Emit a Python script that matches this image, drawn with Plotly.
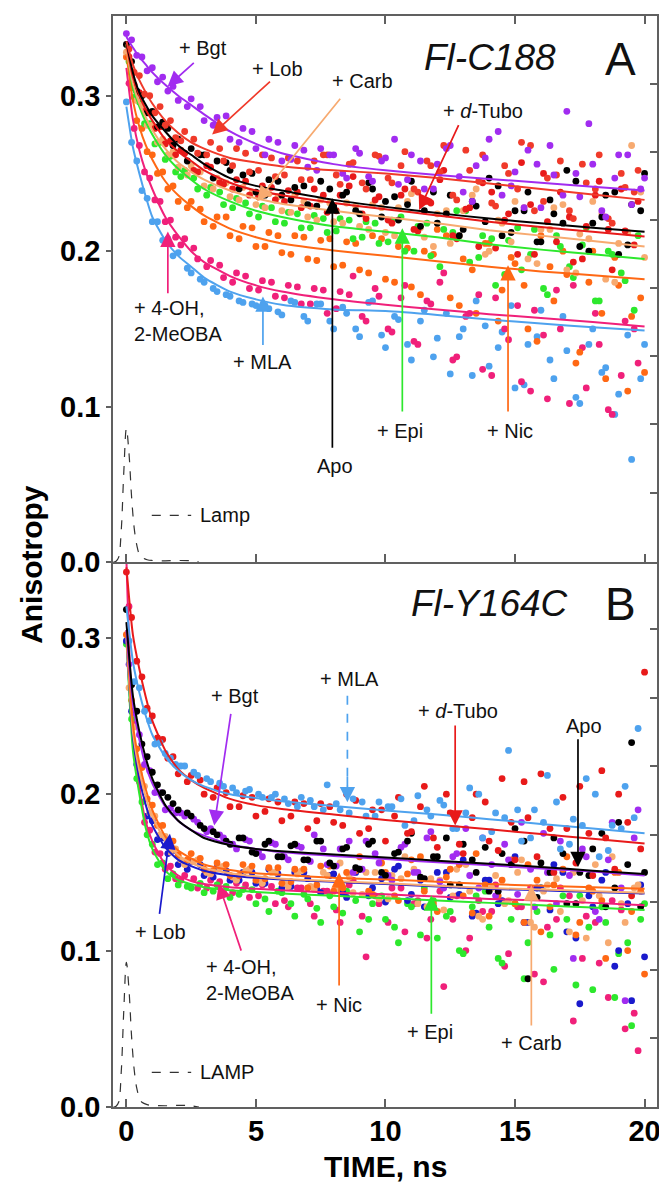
import plotly.graph_objects as go

# ---------------- time grids ----------------
T1 = [0, 0.2, 0.4, 0.6, 0.8, 1.0, 1.2, 1.4, 1.6, 1.8, 2.0,
      2.5, 3, 3.5, 4, 4.5, 5, 5.5, 6, 6.5, 7, 7.5, 8, 8.5, 9, 9.5, 10,
      10.5, 11, 11.5, 12, 12.5, 13, 13.5, 14, 14.5, 15, 15.5, 16, 16.5, 17, 17.5, 18, 18.5, 19, 19.5, 20]
T2 = [0.1, 0.3, 0.5, 0.7, 0.9, 1.1, 1.3, 1.5, 1.7, 1.9,
      2.25, 2.75, 3.25, 3.75, 4.25, 4.75, 5.25, 5.75, 6.25, 6.75, 7.25, 7.75, 8.25, 8.75, 9.25, 9.75,
      10.25, 10.75, 11.25, 11.75, 12.25, 12.75, 13.25, 13.75, 14.25, 14.75, 15.25, 15.75, 16.25, 16.75,
      17.25, 17.75, 18.25, 18.75, 19.25, 19.75]
T3 = [2.1, 2.6, 3.1, 3.6, 4.1, 4.6, 5.1, 5.6, 6.1, 6.6, 7.1, 7.6, 8.1, 8.6, 9.1, 9.6, 10.1, 10.6,
      11.1, 11.6, 12.1, 12.6, 13.1, 13.6, 14.1, 14.6, 15.1, 15.6, 16.1, 16.6, 17.1, 17.6, 18.1, 18.6, 19.1, 19.6]
T4 = [2.35, 2.85, 3.35, 3.85, 4.35, 4.85, 5.35, 5.85, 6.35, 6.85, 7.35, 7.85, 8.35, 8.85, 9.35, 9.85, 10.35, 10.85,
      11.35, 11.85, 12.35, 12.85, 13.35, 13.85, 14.35, 14.85, 15.35, 15.85, 16.35, 16.85, 17.35, 17.85, 18.35, 18.85, 19.35, 19.85]
FIT_T = [0, 0.25, 0.5, 0.75, 1, 1.5, 2, 2.5, 3, 4, 5, 6, 8, 10, 12, 14, 16, 18, 20]
LAMP_T = [-0.5, -0.4, -0.3, -0.2, -0.1, 0, 0.1, 0.2, 0.3, 0.4, 0.5, 0.6, 0.8, 1.0, 1.5, 2.0, 2.5, 2.8]
LAMP_A = [0, 0.0005, 0.003, 0.02, 0.058, 0.086, 0.07, 0.042, 0.022, 0.011, 0.005, 0.003, 0.0015, 0.001, 0.0008, 0.001, 0.0008, 0]
LAMP_B = [0, 0.0005, 0.003, 0.022, 0.062, 0.0925, 0.075, 0.045, 0.024, 0.012, 0.006, 0.003, 0.0015, 0.001, 0.0008, 0.001, 0.0008, 0]

# ---------------- Panel A (Fl-C188) data ----------------
A_BGT = [0.340, 0.336, 0.326, 0.325, 0.316, 0.318, 0.309, 0.312, 0.303, 0.306, 0.297,
         0.298, 0.284, 0.286, 0.272, 0.279, 0.266, 0.272, 0.258, 0.268, 0.254, 0.266, 0.262, 0.247, 0.263, 0.245, 0.260,
         0.243, 0.262, 0.240, 0.256, 0.268, 0.238, 0.255, 0.272, 0.236, 0.251, 0.265, 0.228, 0.249, 0.290, 0.235, 0.256, 0.222, 0.262, 0.230, 0.247]
A_BGT_X = [0.293, 0.293, 0.281, 0.287, 0.270, 0.277, 0.262, 0.270, 0.259, 0.265, 0.252, 0.262, 0.250, 0.266, 0.248, 0.258, 0.272, 0.246,
           0.258, 0.240, 0.266, 0.248, 0.232, 0.260, 0.277, 0.242, 0.228, 0.256, 0.268, 0.236, 0.250, 0.282, 0.226, 0.247, 0.262, 0.240]
A_LOB = [0.330, 0.315, 0.313, 0.301, 0.300, 0.289, 0.293, 0.281, 0.284, 0.273,
         0.277, 0.263, 0.270, 0.258, 0.266, 0.251, 0.262, 0.248, 0.260, 0.246, 0.258, 0.262, 0.243, 0.257, 0.240, 0.261,
         0.244, 0.264, 0.238, 0.255, 0.268, 0.233, 0.252, 0.262, 0.229, 0.250, 0.270, 0.226, 0.247, 0.258, 0.221, 0.244, 0.262, 0.218, 0.241, 0.252]
A_LOB_X = [0.271, 0.272, 0.262, 0.266, 0.255, 0.263, 0.252, 0.260, 0.249, 0.258, 0.246, 0.262, 0.249, 0.256, 0.244, 0.262, 0.247, 0.255,
           0.240, 0.258, 0.251, 0.236, 0.265, 0.245, 0.231, 0.255, 0.240, 0.268, 0.232, 0.249, 0.226, 0.256, 0.240, 0.221, 0.250, 0.238]
A_APO = [0.333, 0.322, 0.303, 0.300, 0.289, 0.290, 0.280, 0.283, 0.279, 0.268, 0.272,
         0.266, 0.262, 0.258, 0.252, 0.249, 0.238, 0.246, 0.236, 0.241, 0.230, 0.245, 0.229, 0.238, 0.224, 0.240, 0.232,
         0.220, 0.245, 0.226, 0.218, 0.236, 0.214, 0.229, 0.247, 0.210, 0.226, 0.238, 0.206, 0.224, 0.252, 0.203, 0.218, 0.236, 0.198, 0.230, 0.250]
A_APO_X = [0.258, 0.262, 0.247, 0.257, 0.240, 0.250, 0.236, 0.245, 0.233, 0.242, 0.229, 0.240, 0.236, 0.226, 0.244, 0.222, 0.235, 0.230,
           0.216, 0.238, 0.224, 0.210, 0.232, 0.219, 0.242, 0.212, 0.226, 0.206, 0.233, 0.218, 0.245, 0.200, 0.222, 0.238, 0.204, 0.226]
A_DTUBO = [0.325, 0.307, 0.302, 0.290, 0.289, 0.279, 0.280, 0.269, 0.271, 0.262,
           0.263, 0.251, 0.254, 0.243, 0.246, 0.236, 0.242, 0.233, 0.239, 0.228, 0.240, 0.225, 0.236, 0.248, 0.221, 0.235,
           0.218, 0.240, 0.213, 0.231, 0.252, 0.208, 0.228, 0.244, 0.202, 0.224, 0.257, 0.198, 0.219, 0.238, 0.193, 0.216, 0.245, 0.188, 0.213, 0.232]
A_DTUBO_X = [0.265, 0.252, 0.255, 0.244, 0.240, 0.245, 0.235, 0.241, 0.232, 0.238, 0.229, 0.236, 0.226, 0.242, 0.224, 0.233, 0.220, 0.236,
             0.214, 0.232, 0.246, 0.210, 0.227, 0.203, 0.238, 0.220, 0.198, 0.230, 0.250, 0.206, 0.222, 0.195, 0.236, 0.214, 0.240, 0.204]
A_CARB = [0.328, 0.315, 0.297, 0.294, 0.281, 0.281, 0.270, 0.272, 0.262, 0.264, 0.254,
          0.255, 0.242, 0.247, 0.235, 0.241, 0.230, 0.237, 0.226, 0.236, 0.222, 0.233, 0.219, 0.231, 0.216, 0.230, 0.212,
          0.228, 0.237, 0.209, 0.224, 0.205, 0.226, 0.240, 0.200, 0.218, 0.232, 0.195, 0.214, 0.228, 0.188, 0.211, 0.232, 0.182, 0.205, 0.268, 0.196]
A_CARB_X = [0.249, 0.251, 0.240, 0.244, 0.233, 0.238, 0.228, 0.235, 0.225, 0.232, 0.220, 0.231, 0.218, 0.229, 0.214, 0.228, 0.210, 0.232,
            0.215, 0.203, 0.226, 0.210, 0.236, 0.198, 0.220, 0.206, 0.228, 0.192, 0.214, 0.230, 0.186, 0.208, 0.224, 0.180, 0.212, 0.238]
A_EPI = [0.322, 0.299, 0.296, 0.282, 0.282, 0.269, 0.270, 0.259, 0.261, 0.251,
         0.252, 0.240, 0.241, 0.230, 0.234, 0.224, 0.229, 0.219, 0.225, 0.215, 0.223, 0.212, 0.221, 0.208, 0.219, 0.205,
         0.220, 0.200, 0.216, 0.197, 0.214, 0.226, 0.193, 0.210, 0.178, 0.207, 0.188, 0.214, 0.172, 0.203, 0.183, 0.215, 0.168, 0.198, 0.181, 0.210]
A_EPI_X = [0.248, 0.247, 0.236, 0.238, 0.228, 0.231, 0.222, 0.228, 0.218, 0.224, 0.215, 0.221, 0.213, 0.220, 0.209, 0.218, 0.206, 0.222,
           0.200, 0.218, 0.190, 0.212, 0.226, 0.196, 0.208, 0.185, 0.215, 0.198, 0.176, 0.210, 0.190, 0.204, 0.168, 0.200, 0.186, 0.162]
A_NIC = [0.325, 0.305, 0.284, 0.279, 0.264, 0.262, 0.250, 0.251, 0.240, 0.242, 0.232,
         0.232, 0.219, 0.222, 0.210, 0.216, 0.203, 0.212, 0.199, 0.210, 0.195, 0.207, 0.190, 0.206, 0.188, 0.210, 0.182,
         0.203, 0.177, 0.200, 0.214, 0.170, 0.195, 0.160, 0.205, 0.175, 0.192, 0.150, 0.210, 0.168, 0.185, 0.135, 0.200, 0.118, 0.178, 0.158, 0.122]
A_NIC_X = [0.228, 0.227, 0.216, 0.222, 0.208, 0.215, 0.203, 0.210, 0.198, 0.209, 0.194, 0.208, 0.191, 0.205, 0.186, 0.208, 0.180, 0.202,
           0.172, 0.198, 0.210, 0.165, 0.188, 0.205, 0.155, 0.196, 0.178, 0.142, 0.190, 0.200, 0.128, 0.180, 0.160, 0.196, 0.110, 0.170]
A_OH = [0.308, 0.279, 0.268, 0.251, 0.247, 0.233, 0.232, 0.219, 0.220, 0.209,
        0.208, 0.195, 0.194, 0.183, 0.186, 0.176, 0.181, 0.171, 0.178, 0.166, 0.176, 0.160, 0.174, 0.184, 0.155, 0.171,
        0.148, 0.178, 0.140, 0.166, 0.186, 0.132, 0.160, 0.124, 0.170, 0.143, 0.116, 0.162, 0.105, 0.150, 0.178, 0.112, 0.140, 0.095, 0.155, 0.128]
A_OH_X = [0.204, 0.202, 0.190, 0.191, 0.180, 0.184, 0.175, 0.180, 0.170, 0.177, 0.166, 0.175, 0.163, 0.172, 0.158, 0.176, 0.150, 0.170,
          0.142, 0.168, 0.180, 0.130, 0.158, 0.172, 0.120, 0.150, 0.165, 0.110, 0.146, 0.175, 0.102, 0.138, 0.160, 0.098, 0.120, 0.150]
A_MLA = [0.296, 0.270, 0.258, 0.239, 0.234, 0.219, 0.219, 0.207, 0.208, 0.197, 0.199,
         0.186, 0.180, 0.174, 0.171, 0.167, 0.165, 0.163, 0.159, 0.167, 0.155, 0.166, 0.150, 0.160, 0.145, 0.168, 0.138,
         0.156, 0.130, 0.162, 0.144, 0.121, 0.150, 0.168, 0.126, 0.148, 0.112, 0.140, 0.162, 0.118, 0.136, 0.102, 0.150, 0.125, 0.108, 0.066, 0.140]
A_MLA_X = [0.189, 0.182, 0.176, 0.172, 0.168, 0.166, 0.165, 0.161, 0.168, 0.158, 0.166, 0.155, 0.164, 0.150, 0.167, 0.146, 0.158, 0.140,
           0.155, 0.132, 0.160, 0.145, 0.120, 0.152, 0.138, 0.165, 0.114, 0.145, 0.130, 0.158, 0.106, 0.140, 0.122, 0.095, 0.146, 0.118]

A_FIT_BGT = [0.338, 0.331, 0.325, 0.320, 0.315, 0.307, 0.300, 0.294, 0.288, 0.277, 0.269, 0.263, 0.256, 0.252, 0.249, 0.2465, 0.244, 0.2415, 0.239]
A_FIT_LOB = [0.335, 0.320, 0.310, 0.302, 0.295, 0.284, 0.276, 0.270, 0.266, 0.260, 0.257, 0.2545, 0.252, 0.250, 0.247, 0.2435, 0.240, 0.2365, 0.233]
A_FIT_APO = [0.335, 0.315, 0.302, 0.294, 0.287, 0.277, 0.268, 0.262, 0.256, 0.247, 0.242, 0.239, 0.233, 0.2285, 0.2245, 0.221, 0.218, 0.215, 0.2125]
A_FIT_DTUBO = [0.333, 0.312, 0.300, 0.291, 0.284, 0.272, 0.264, 0.258, 0.252, 0.244, 0.239, 0.236, 0.231, 0.227, 0.223, 0.219, 0.2155, 0.2125, 0.2095]
A_FIT_CARB = [0.330, 0.308, 0.295, 0.286, 0.278, 0.266, 0.257, 0.251, 0.246, 0.239, 0.234, 0.2305, 0.226, 0.222, 0.218, 0.2135, 0.210, 0.2065, 0.203]
A_FIT_EPI = [0.333, 0.305, 0.293, 0.283, 0.275, 0.262, 0.253, 0.246, 0.240, 0.232, 0.226, 0.222, 0.216, 0.2125, 0.209, 0.2045, 0.201, 0.198, 0.195]
A_FIT_NIC = [0.327, 0.297, 0.280, 0.268, 0.259, 0.245, 0.236, 0.229, 0.223, 0.2145, 0.209, 0.205, 0.2005, 0.197, 0.1935, 0.190, 0.187, 0.1845, 0.182]
A_FIT_OH = [0.318, 0.285, 0.265, 0.251, 0.240, 0.222, 0.210, 0.200, 0.193, 0.184, 0.178, 0.174, 0.169, 0.1655, 0.1625, 0.1595, 0.157, 0.1545, 0.1515]
A_FIT_MLA = [0.293, 0.267, 0.250, 0.235, 0.222, 0.207, 0.197, 0.190, 0.183, 0.174, 0.169, 0.1655, 0.1625, 0.1615, 0.159, 0.156, 0.1535, 0.151, 0.149]

# ---------------- Panel B (Fl-Y164C) data ----------------
B_DTUBO = [0.342, 0.313, 0.285, 0.275, 0.255, 0.250, 0.236, 0.235, 0.223, 0.224, 0.213,
           0.212, 0.200, 0.204, 0.192, 0.199, 0.186, 0.197, 0.183, 0.195, 0.178, 0.194, 0.182, 0.200, 0.175, 0.190, 0.170,
           0.198, 0.176, 0.205, 0.166, 0.188, 0.162, 0.200, 0.170, 0.210, 0.158, 0.185, 0.213, 0.150, 0.178, 0.205, 0.148, 0.172, 0.200, 0.135, 0.278]
B_DTUBO_X = [0.208, 0.209, 0.198, 0.201, 0.192, 0.198, 0.189, 0.195, 0.186, 0.194, 0.183, 0.192, 0.180, 0.196, 0.178, 0.190, 0.186, 0.175,
             0.192, 0.172, 0.200, 0.168, 0.185, 0.195, 0.164, 0.182, 0.208, 0.160, 0.178, 0.198, 0.156, 0.175, 0.215, 0.152, 0.182, 0.165]
B_MLA = [0.298, 0.272, 0.268, 0.253, 0.247, 0.232, 0.233, 0.226, 0.223, 0.219,
         0.218, 0.212, 0.208, 0.205, 0.201, 0.203, 0.198, 0.200, 0.194, 0.198, 0.192, 0.206, 0.190, 0.197, 0.186, 0.195,
         0.192, 0.180, 0.199, 0.186, 0.193, 0.178, 0.204, 0.172, 0.188, 0.228, 0.170, 0.190, 0.212, 0.165, 0.184, 0.210, 0.160, 0.180, 0.205, 0.242]
B_MLA_X = [0.218, 0.214, 0.210, 0.207, 0.204, 0.202, 0.200, 0.198, 0.197, 0.192, 0.196, 0.190, 0.194, 0.188, 0.195, 0.186, 0.192, 0.197,
           0.183, 0.190, 0.196, 0.178, 0.188, 0.200, 0.176, 0.185, 0.190, 0.172, 0.182, 0.195, 0.168, 0.180, 0.200, 0.164, 0.178, 0.185]
B_APO = [0.318, 0.270, 0.253, 0.232, 0.224, 0.214, 0.206, 0.201, 0.198, 0.194, 0.190,
         0.186, 0.178, 0.174, 0.168, 0.172, 0.162, 0.170, 0.160, 0.168, 0.158, 0.170, 0.154, 0.166, 0.152, 0.170, 0.148,
         0.163, 0.175, 0.146, 0.160, 0.142, 0.168, 0.150, 0.138, 0.162, 0.178, 0.082, 0.156, 0.172, 0.130, 0.150, 0.165, 0.128, 0.182, 0.233, 0.150]
B_APO_X = [0.188, 0.180, 0.176, 0.170, 0.172, 0.163, 0.168, 0.160, 0.167, 0.158, 0.170, 0.156, 0.165, 0.153, 0.168, 0.150, 0.162, 0.170,
           0.147, 0.160, 0.172, 0.142, 0.158, 0.166, 0.138, 0.155, 0.170, 0.134, 0.150, 0.162, 0.130, 0.148, 0.175, 0.140, 0.155, 0.128]
B_BGT = [0.283, 0.252, 0.238, 0.219, 0.215, 0.201, 0.201, 0.190, 0.191, 0.188,
         0.186, 0.182, 0.178, 0.172, 0.165, 0.170, 0.160, 0.168, 0.158, 0.166, 0.174, 0.155, 0.165, 0.150, 0.170, 0.156,
         0.145, 0.168, 0.150, 0.176, 0.140, 0.162, 0.148, 0.172, 0.135, 0.158, 0.182, 0.128, 0.150, 0.170, 0.095, 0.160, 0.120, 0.182, 0.068, 0.190]
B_BGT_X = [0.188, 0.184, 0.176, 0.174, 0.168, 0.171, 0.163, 0.169, 0.160, 0.167, 0.157, 0.165, 0.154, 0.170, 0.152, 0.162, 0.148, 0.166,
           0.150, 0.172, 0.144, 0.160, 0.178, 0.140, 0.155, 0.168, 0.136, 0.152, 0.175, 0.130, 0.148, 0.165, 0.125, 0.158, 0.140, 0.172]
B_NIC = [0.302, 0.260, 0.229, 0.217, 0.197, 0.193, 0.180, 0.180, 0.169, 0.170, 0.161,
         0.162, 0.152, 0.156, 0.148, 0.155, 0.145, 0.153, 0.143, 0.152, 0.140, 0.154, 0.138, 0.150, 0.160, 0.136, 0.150,
         0.132, 0.158, 0.138, 0.125, 0.152, 0.135, 0.162, 0.122, 0.145, 0.130, 0.155, 0.112, 0.142, 0.160, 0.118, 0.138, 0.095, 0.150, 0.125, 0.085]
B_NIC_X = [0.158, 0.159, 0.151, 0.155, 0.148, 0.154, 0.146, 0.153, 0.144, 0.152, 0.142, 0.154, 0.140, 0.151, 0.138, 0.156, 0.135, 0.149,
           0.160, 0.130, 0.147, 0.155, 0.124, 0.142, 0.135, 0.158, 0.118, 0.145, 0.128, 0.152, 0.110, 0.140, 0.132, 0.150, 0.100, 0.138]
B_CARB = [0.268, 0.243, 0.213, 0.205, 0.188, 0.186, 0.174, 0.173, 0.163, 0.165,
          0.155, 0.158, 0.149, 0.154, 0.145, 0.152, 0.143, 0.150, 0.141, 0.151, 0.139, 0.148, 0.156, 0.137, 0.150, 0.133,
          0.148, 0.160, 0.130, 0.146, 0.126, 0.152, 0.138, 0.120, 0.148, 0.132, 0.158, 0.115, 0.142, 0.125, 0.150, 0.108, 0.135, 0.160, 0.118, 0.142]
B_CARB_X = [0.158, 0.157, 0.150, 0.153, 0.147, 0.151, 0.145, 0.150, 0.143, 0.149, 0.141, 0.150, 0.139, 0.147, 0.136, 0.150, 0.133, 0.146,
            0.152, 0.128, 0.145, 0.135, 0.155, 0.122, 0.140, 0.130, 0.150, 0.118, 0.138, 0.146, 0.112, 0.132, 0.155, 0.105, 0.130, 0.140]
B_LOB = [0.298, 0.253, 0.219, 0.205, 0.186, 0.183, 0.171, 0.172, 0.162, 0.164, 0.155,
         0.157, 0.148, 0.153, 0.145, 0.150, 0.143, 0.152, 0.140, 0.150, 0.146, 0.137, 0.149, 0.134, 0.152, 0.140, 0.131,
         0.154, 0.136, 0.128, 0.150, 0.134, 0.158, 0.124, 0.145, 0.132, 0.160, 0.118, 0.140, 0.155, 0.112, 0.066, 0.128, 0.150, 0.100, 0.068, 0.096]
B_LOB_X = [0.152, 0.155, 0.147, 0.151, 0.145, 0.150, 0.143, 0.149, 0.141, 0.150, 0.139, 0.148, 0.137, 0.150, 0.135, 0.146, 0.152, 0.132,
           0.145, 0.128, 0.150, 0.136, 0.122, 0.145, 0.130, 0.155, 0.118, 0.140, 0.126, 0.150, 0.108, 0.135, 0.145, 0.090, 0.130, 0.142]
B_OH = [0.320, 0.246, 0.208, 0.182, 0.177, 0.163, 0.162, 0.152, 0.154, 0.146,
        0.148, 0.140, 0.145, 0.137, 0.143, 0.134, 0.142, 0.130, 0.128, 0.140, 0.122, 0.138, 0.118, 0.145, 0.096, 0.130,
        0.140, 0.112, 0.132, 0.120, 0.077, 0.135, 0.108, 0.125, 0.142, 0.098, 0.128, 0.085, 0.115, 0.140, 0.055, 0.122, 0.092, 0.132, 0.050, 0.036]
B_OH_X = [0.145, 0.146, 0.140, 0.144, 0.137, 0.142, 0.135, 0.141, 0.132, 0.140, 0.130, 0.138, 0.126, 0.142, 0.122, 0.135, 0.118, 0.140,
          0.130, 0.108, 0.138, 0.120, 0.100, 0.132, 0.125, 0.090, 0.128, 0.140, 0.080, 0.120, 0.135, 0.095, 0.118, 0.070, 0.126, 0.060]
B_EPI = [0.296, 0.248, 0.210, 0.195, 0.174, 0.168, 0.155, 0.156, 0.146, 0.149, 0.142,
         0.140, 0.137, 0.142, 0.134, 0.139, 0.130, 0.125, 0.137, 0.122, 0.133, 0.118, 0.128, 0.138, 0.112, 0.130, 0.120,
         0.105, 0.128, 0.140, 0.108, 0.125, 0.098, 0.135, 0.115, 0.092, 0.130, 0.105, 0.140, 0.088, 0.120, 0.135, 0.075, 0.118, 0.098, 0.052, 0.130]
B_EPI_X = [0.141, 0.143, 0.138, 0.141, 0.136, 0.139, 0.133, 0.138, 0.130, 0.136, 0.127, 0.135, 0.124, 0.132, 0.120, 0.135, 0.115, 0.130,
           0.110, 0.132, 0.122, 0.100, 0.128, 0.138, 0.095, 0.120, 0.082, 0.125, 0.110, 0.135, 0.078, 0.115, 0.128, 0.070, 0.105, 0.120]

B_FIT_DTUBO = [0.345, 0.302, 0.280, 0.262, 0.247, 0.228, 0.216, 0.209, 0.204, 0.197, 0.193, 0.1905, 0.187, 0.1835, 0.1805, 0.1775, 0.1745, 0.1715, 0.1685]
B_FIT_MLA = [0.320, 0.285, 0.265, 0.250, 0.238, 0.224, 0.215, 0.209, 0.205, 0.200, 0.1975, 0.1955, 0.1925, 0.1895, 0.187, 0.184, 0.181, 0.178, 0.175]
B_FIT_APO = [0.310, 0.263, 0.240, 0.223, 0.210, 0.193, 0.183, 0.177, 0.172, 0.1675, 0.165, 0.1635, 0.1615, 0.1595, 0.1575, 0.1555, 0.1535, 0.151, 0.149]
B_FIT_BGT = [0.305, 0.258, 0.235, 0.218, 0.207, 0.192, 0.183, 0.177, 0.1735, 0.168, 0.165, 0.163, 0.1605, 0.1585, 0.1565, 0.1545, 0.1525, 0.1505, 0.148]
B_FIT_NIC = [0.305, 0.245, 0.220, 0.203, 0.190, 0.173, 0.164, 0.159, 0.155, 0.1515, 0.1495, 0.1485, 0.1465, 0.1455, 0.144, 0.1425, 0.1415, 0.1405, 0.1395]
B_FIT_CARB = [0.300, 0.240, 0.215, 0.198, 0.186, 0.170, 0.161, 0.156, 0.153, 0.1495, 0.1475, 0.146, 0.1445, 0.143, 0.1415, 0.140, 0.139, 0.138, 0.137]
B_FIT_LOB = [0.300, 0.237, 0.210, 0.193, 0.180, 0.166, 0.158, 0.154, 0.151, 0.148, 0.1465, 0.1455, 0.144, 0.1425, 0.141, 0.1395, 0.1385, 0.1375, 0.1365]
B_FIT_OH = [0.350, 0.240, 0.205, 0.182, 0.170, 0.155, 0.148, 0.1445, 0.1425, 0.1405, 0.1395, 0.1385, 0.137, 0.136, 0.1345, 0.133, 0.132, 0.1305, 0.129]
B_FIT_EPI = [0.300, 0.228, 0.200, 0.178, 0.165, 0.151, 0.145, 0.1425, 0.1405, 0.1385, 0.1375, 0.1365, 0.135, 0.1335, 0.132, 0.1305, 0.129, 0.1275, 0.126]

# ---------------- colours ----------------
PURPLE = "#a12cf0"
RED_LOB = "#f03a2a"
RED = "#e81a1a"
BLACK = "#000000"
PEACH = "#f7aa70"
GREEN = "#2de82d"
ORANGE = "#ff6814"
PINK = "#f0207a"
LBLUE = "#4ea2ee"
NAVY = "#1a1acc"
FRAME = "#606060"
FONT = "Liberation Sans"

A_SERIES = [
    (T1, A_MLA, T4, A_MLA_X, A_FIT_MLA, LBLUE),
    (T2, A_OH, T3, A_OH_X, A_FIT_OH, PINK),
    (T1, A_NIC, T4, A_NIC_X, A_FIT_NIC, ORANGE),
    (T2, A_EPI, T3, A_EPI_X, A_FIT_EPI, GREEN),
    (T1, A_CARB, T4, A_CARB_X, A_FIT_CARB, PEACH),
    (T2, A_DTUBO, T3, A_DTUBO_X, A_FIT_DTUBO, RED),
    (T1, A_APO, T4, A_APO_X, A_FIT_APO, BLACK),
    (T2, A_LOB, T3, A_LOB_X, A_FIT_LOB, RED_LOB),
    (T1, A_BGT, T4, A_BGT_X, A_FIT_BGT, PURPLE),
]
B_SERIES = [
    (T2, B_OH, T3, B_OH_X, B_FIT_OH, PINK),
    (T1, B_EPI, T4, B_EPI_X, B_FIT_EPI, GREEN),
    (T1, B_LOB, T4, B_LOB_X, B_FIT_LOB, NAVY),
    (T2, B_CARB, T3, B_CARB_X, B_FIT_CARB, PEACH),
    (T1, B_NIC, T4, B_NIC_X, B_FIT_NIC, ORANGE),
    (T2, B_BGT, T3, B_BGT_X, B_FIT_BGT, PURPLE),
    (T1, B_APO, T4, B_APO_X, B_FIT_APO, BLACK),
    (T1, B_DTUBO, T4, B_DTUBO_X, B_FIT_DTUBO, RED),
    (T2, B_MLA, T3, B_MLA_X, B_FIT_MLA, LBLUE),
]

fig = go.Figure()

for series, xa, ya in ((A_SERIES, "x2", "y2"), (B_SERIES, "x", "y")):
    for t, vals, tx, vx, fit, col in series:
        fig.add_trace(go.Scatter(x=t + tx, y=vals + vx, mode="markers", xaxis=xa, yaxis=ya,
                                 marker=dict(color=col, size=6.8, line=dict(width=0)),
                                 showlegend=False, hoverinfo="skip"))
    for t, vals, tx, vx, fit, col in series:
        fig.add_trace(go.Scatter(x=FIT_T, y=fit, mode="lines", xaxis=xa, yaxis=ya,
                                 line=dict(color=col, width=2, shape="spline", smoothing=0.6),
                                 showlegend=False, hoverinfo="skip"))

fig.add_trace(go.Scatter(x=LAMP_T, y=LAMP_A, mode="lines", xaxis="x2", yaxis="y2",
                         line=dict(color="#333", width=1.2, dash="dash", shape="spline"), showlegend=False))
fig.add_trace(go.Scatter(x=LAMP_T, y=LAMP_B, mode="lines", xaxis="x", yaxis="y",
                         line=dict(color="#333", width=1.2, dash="dash", shape="spline"), showlegend=False))
# placeholders so the right-hand mirror axes are drawn
fig.add_trace(go.Scatter(x=[], y=[], xaxis="x", yaxis="y3", showlegend=False))
fig.add_trace(go.Scatter(x=[], y=[], xaxis="x2", yaxis="y4", showlegend=False))

XR = [-0.517, 20.48]
YRA = [0, 0.3513]
YRB = [0, 0.3484]
RIGHT_A = [0.0443, 0.0887, 0.1323, 0.176, 0.2203, 0.264, 0.3076]
RIGHT_B = [0.044, 0.0874, 0.1308, 0.1742, 0.2183, 0.2616, 0.3057]

axis_common = dict(showline=True, linecolor=FRAME, linewidth=1.5, showgrid=False, zeroline=False,
                   tickcolor=FRAME, tickwidth=1.5)
tickfont_y = dict(family=FONT, size=29, color="black", weight="bold")

# the page body adds an 8 px margin, so the figure is 8 px smaller and shifted
fig.update_layout(
    width=659, height=1175,
    margin=dict(l=105, r=6, t=6, b=76),
    plot_bgcolor="white", paper_bgcolor="white",
    showlegend=False,
    xaxis=dict(domain=[0, 1], anchor="y", range=XR, tickvals=[0, 5, 10, 15, 20],
               ticks="inside", ticklen=8, ticklabelstandoff=-3,
               tickfont=dict(family=FONT, size=29, color="black", weight="bold"),
               **axis_common),
    xaxis2=dict(domain=[0, 1], anchor="y2", range=XR, tickvals=[0, 5, 10, 15, 20],
                ticks="inside", ticklen=8, mirror="ticks", showticklabels=False, **axis_common),
    yaxis=dict(domain=[0, 0.4995], anchor="x", range=YRB, tickvals=[0, 0.1, 0.2, 0.3],
               ticktext=["0.0", "0.1", "0.2", "0.3"], ticks="outside", ticklen=5,
               tickfont=tickfont_y, **axis_common),
    yaxis2=dict(domain=[0.4995, 1], anchor="x2", range=YRA, tickvals=[0, 0.1, 0.2, 0.3],
                ticktext=["0.0", "0.1", "0.2", "0.3"], ticks="outside", ticklen=5,
                tickfont=tickfont_y, **axis_common),
    yaxis3=dict(overlaying="y", anchor="x", side="right", range=YRB, tickvals=RIGHT_B,
                ticks="inside", ticklen=7, showticklabels=False, **axis_common),
    yaxis4=dict(overlaying="y2", anchor="x2", side="right", range=YRA, tickvals=RIGHT_A,
                ticks="inside", ticklen=7, showticklabels=False, **axis_common),
)

anns = []
TXT = dict(family=FONT, size=20, color="#111")

def label(text, x, y, xr, yr, xanchor="center", align="center"):
    anns.append(dict(text=text, x=x, y=y, xref=xr, yref=yr, showarrow=False,
                     xanchor=xanchor, yanchor="middle", align=align, font=TXT))

def arrow(hx, hy, tx, ty, col, xr, yr):
    anns.append(dict(text="", x=hx, y=hy, ax=tx, ay=ty, xref=xr, yref=yr, axref=xr, ayref=yr,
                     showarrow=True, arrowhead=2, arrowsize=1.8, arrowwidth=1.7, arrowcolor=col))

# Panel A labels and arrows
label("+ Bgt", 2.95, 0.331, "x2", "y2")
arrow(1.59, 0.306, 2.66, 0.322, PURPLE, "x2", "y2")
label("+ Lob", 5.84, 0.317, "x2", "y2")
arrow(3.31, 0.275, 5.6, 0.310, RED_LOB, "x2", "y2")
label("+ Carb", 9.1, 0.3096, "x2", "y2")
arrow(5.04, 0.232, 8.3, 0.299, PEACH, "x2", "y2")
label("+ <i>d</i>-Tubo", 13.75, 0.2903, "x2", "y2")
arrow(11.3, 0.2265, 12.85, 0.282, RED, "x2", "y2")
label("Apo", 8.05, 0.0617, "x2", "y2")
arrow(7.95, 0.234, 7.95, 0.0726, BLACK, "x2", "y2")
label("+ Epi", 10.57, 0.084, "x2", "y2")
arrow(10.65, 0.2147, 10.65, 0.0959, GREEN, "x2", "y2")
label("+ Nic", 14.8, 0.084, "x2", "y2")
arrow(14.73, 0.191, 14.73, 0.0959, ORANGE, "x2", "y2")
label("+ 4-OH,<br>2-MeOBA", 0.21, 0.155, "x2", "y2", xanchor="left", align="left")
arrow(1.6, 0.2126, 1.6, 0.172, PINK, "x2", "y2")
label("+ MLA", 5.27, 0.129, "x2", "y2")
arrow(5.27, 0.1708, 5.27, 0.1387, LBLUE, "x2", "y2")
label("Lamp", 2.78, 0.030, "x2", "y2", xanchor="left")

# Panel B labels and arrows
label("+ MLA", 8.62, 0.2736, "x", "y")
arrow(8.53, 0.1948, 8.53, 0.212, LBLUE, "x", "y")
label("+ Bgt", 4.21, 0.263, "x", "y")
arrow(3.39, 0.18, 4.04, 0.2523, PURPLE, "x", "y")
label("+ <i>d</i>-Tubo", 12.78, 0.2534, "x", "y")
arrow(12.69, 0.18, 12.69, 0.2449, RED, "x", "y")
label("Apo", 17.67, 0.2438, "x", "y")
arrow(17.43, 0.1534, 17.43, 0.2361, BLACK, "x", "y")
label("+ Lob", 1.32, 0.1119, "x", "y")
arrow(1.68, 0.1747, 1.27, 0.1225, NAVY, "x", "y")
label("+ 4-OH,<br>2-MeOBA", 2.98, 0.0815, "x", "y", xanchor="left", align="left")
arrow(3.56, 0.1427, 4.45, 0.099, PINK, "x", "y")
label("+ Nic", 8.21, 0.065, "x", "y")
arrow(8.21, 0.150, 8.21, 0.0768, ORANGE, "x", "y")
label("+ Epi", 11.72, 0.0477, "x", "y")
arrow(11.77, 0.1353, 11.77, 0.0587, GREEN, "x", "y")
label("+ Carb", 15.63, 0.0408, "x", "y")
arrow(15.63, 0.1417, 15.63, 0.0512, PEACH, "x", "y")
label("LAMP", 2.78, 0.0221, "x", "y", xanchor="left")

# Panel titles, letters and axis titles
def ptext(text, x, y, size, style="normal", weight="normal", angle=0):
    anns.append(dict(text=text, x=x, y=y, xref="paper", yref="paper", showarrow=False,
                     xanchor="center", yanchor="middle", textangle=angle,
                     font=dict(family=FONT, size=size, color="#111" if weight == "normal" else "black",
                               style=style, weight=weight)))

ptext("Fl-C188", 0.693, 0.9616, 37, style="italic")
ptext("A", 0.9325, 0.9607, 46)
ptext("Fl-Y164C", 0.6916, 0.4611, 37, style="italic")
ptext("B", 0.9325, 0.4611, 46)
ptext("Anisotropy", -0.151, 0.4977, 30, weight="bold", angle=-90)
ptext("TIME, ns", 0.5, -0.0545, 30, weight="bold")

fig.update_layout(annotations=anns)

# dashed legend keys for the lamp profile and the dashed MLA arrow shaft
fig.add_shape(type="line", x0=0.98, x1=2.5, y0=0.030, y1=0.030, xref="x2", yref="y2",
              line=dict(color="#333", width=1.2, dash="dash"))
fig.add_shape(type="line", x0=0.98, x1=2.5, y0=0.0221, y1=0.0221, xref="x", yref="y",
              line=dict(color="#333", width=1.2, dash="dash"))
fig.add_shape(type="line", x0=8.53, x1=8.53, y0=0.263, y1=0.205, xref="x", yref="y",
              line=dict(color=LBLUE, width=1.7, dash="dash"))

fig.write_html("out.html")
